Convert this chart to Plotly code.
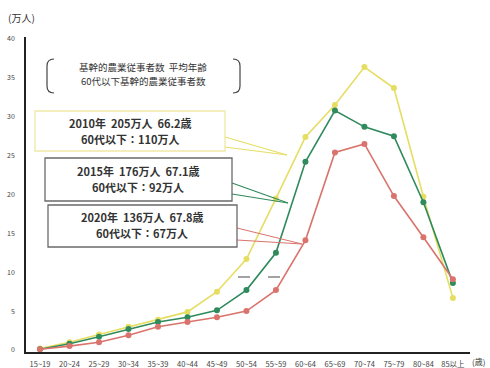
import plotly.graph_objects as go

# Age groups (x-axis categories)
age_groups = ["15~19", "20~24", "25~29", "30~34", "35~39", "40~44", "45~49",
              "50~54", "55~59", "60~64", "65~69", "70~74", "75~79", "80~84", "85以上"]

# Core agricultural workers by age group (万人)
workers_2010 = [0.2, 1.0, 2.0, 3.0, 3.9, 4.9, 7.5, 11.7, 19.5, 27.4, 31.5, 36.4, 33.7, 19.7, 6.7]
workers_2015 = [0.1, 0.8, 1.7, 2.7, 3.6, 4.2, 5.1, 7.7, 12.5, 24.2, 30.8, 28.7, 27.5, 19.0, 8.6]
workers_2020 = [0.1, 0.5, 1.0, 1.9, 3.0, 3.6, 4.2, 5.0, 7.7, 14.1, 25.4, 26.5, 19.8, 14.5, 9.1]

y_ticks = [0, 5, 10, 15, 20, 25, 30, 35, 40]

YELLOW = "#e6de62"
GREEN = "#2f8a5c"
RED = "#d9736c"
TEXT = "#333333"
FONT = "Noto Sans CJK JP"

W, H = 490, 368
L, R, T, B = 26, 20, 37, 16
PW, PH = W - L - R, H - T - B


def px(x, y):
    """Pixel position on the page -> paper coordinates."""
    return (x - L) / PW, (H - B - y) / PH


fig = go.Figure()
x_idx = list(range(len(age_groups)))
for name, vals, col in [("2010年", workers_2010, YELLOW),
                        ("2015年", workers_2015, GREEN),
                        ("2020年", workers_2020, RED)]:
    fig.add_trace(go.Scatter(
        x=x_idx, y=vals, name=name, mode="lines+markers",
        line=dict(color=col, width=1.6),
        marker=dict(color=col, size=6),
        showlegend=False,
    ))

shapes = []


def line(x0, y0, x1, y1, color, width=1.0):
    a, b = px(x0, y0)
    c, d = px(x1, y1)
    shapes.append(dict(type="line", xref="paper", yref="paper",
                       x0=a, y0=b, x1=c, y1=d,
                       line=dict(color=color, width=width)))


def path(points, color, width=1.2):
    cmds = []
    for cmd, pts in points:
        coords = " ".join(f"{px(x, y)[0]:.4f},{px(x, y)[1]:.4f}" for x, y in pts)
        cmds.append(f"{cmd} {coords}")
    shapes.append(dict(type="path", xref="paper", yref="paper",
                       path=" ".join(cmds), line=dict(color=color, width=width)))


def box(x0, y0, x1, y1, color, width=1.3):
    a, b = px(x0, y0)
    c, d = px(x1, y1)
    shapes.append(dict(type="rect", xref="paper", yref="paper",
                       x0=a, y0=b, x1=c, y1=d, fillcolor="white",
                       line=dict(color=color, width=width), layer="above"))


# Callout wedges linking each note to its curve
line(225, 137, 287, 155, YELLOW, 1.2)
line(225, 147, 287, 155, YELLOW, 1.2)
line(232, 183, 288, 203, GREEN, 1.2)
line(232, 194, 288, 203, GREEN, 1.2)
line(237, 228, 302, 244, RED, 1.0)
line(237, 240, 302, 244, RED, 1.0)

# Short marks beside the rising section
line(238, 277, 250, 277, "#666666", 1.2)
line(268, 277, 280, 277, "#666666", 1.2)

# Brackets around the legend key
path([("M", [(54, 59)]), ("Q", [(47, 59), (47, 66)]), ("L", [(47, 86)]),
      ("Q", [(47, 93), (54, 93)])], "#444444")
path([("M", [(233, 59)]), ("Q", [(240, 59), (240, 66)]), ("L", [(240, 86)]),
      ("Q", [(240, 93), (233, 93)])], "#444444")

# Note frames
box(35, 111, 225, 151, "#efe9a6")
box(45, 158, 232, 201, "#6a6a6a")
box(48, 205, 237, 247, "#6a6a6a")

annotations = []


def note(cx, cy, text, size):
    x, y = px(cx, cy)
    annotations.append(dict(
        xref="paper", yref="paper", x=x, y=y, xanchor="center", yanchor="middle",
        text=text, showarrow=False, align="center",
        font=dict(family=FONT, size=size, color=TEXT),
    ))


note(143, 67, "基幹的農業従事者数  平均年齢", 9.5)
note(143, 81, "60代以下基幹的農業従事者数", 9.5)
note(130, 123, "<b>2010年  205万人  66.2歳</b>", 11)
note(130, 139, "<b>60代以下：110万人</b>", 11)
note(138, 171, "<b>2015年  176万人  67.1歳</b>", 11)
note(138, 187, "<b>60代以下：92万人</b>", 11)
note(142, 217, "<b>2020年  136万人  67.8歳</b>", 11)
note(142, 233, "<b>60代以下：67万人</b>", 11)

# Unit labels
annotations.append(dict(xref="paper", yref="paper", x=px(6, 17)[0], y=px(6, 17)[1],
                        xanchor="left", yanchor="middle", text="(万人)", showarrow=False,
                        font=dict(family=FONT, size=10, color=TEXT)))
annotations.append(dict(xref="paper", yref="paper", x=px(470, 362)[0], y=px(470, 362)[1],
                        xanchor="left", yanchor="middle", text="(歳)", showarrow=False,
                        font=dict(family=FONT, size=8, color=TEXT)))

fig.update_layout(
    width=W, height=H,
    margin=dict(l=L, r=R, t=T, b=B),
    paper_bgcolor="white", plot_bgcolor="white",
    shapes=shapes, annotations=annotations,
    font=dict(family=FONT, color=TEXT),
    xaxis=dict(
        range=[-0.475, 14.58], tickmode="array", tickvals=x_idx, ticktext=age_groups,
        showgrid=False, zeroline=False, showline=True, linecolor="#222222", linewidth=1.6,
        ticks="", tickfont=dict(size=7.5, color="#444444"), ticklabelstandoff=4,
        automargin=False,
    ),
    yaxis=dict(
        range=[-0.26, 40.26], tickmode="array", tickvals=y_ticks,
        showgrid=False, zeroline=False, showline=True, linecolor="#222222", linewidth=1.6,
        ticks="", tickfont=dict(size=7, color="#444444"), ticklabelstandoff=8,
        automargin=False,
    ),
)

fig.write_html("out.html")
